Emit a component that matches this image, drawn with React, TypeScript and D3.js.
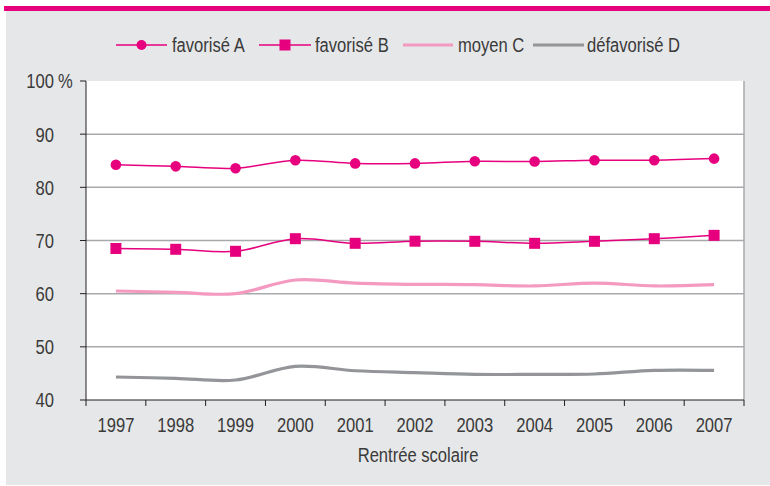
import React from 'react';
import * as d3 from 'd3';

const years = ['1997', '1998', '1999', '2000', '2001', '2002', '2003', '2004', '2005', '2006', '2007'];
const favA = [84.25, 83.95, 83.6, 85.1, 84.5, 84.5, 84.9, 84.85, 85.1, 85.1, 85.4];
const favB = [68.5, 68.35, 67.97, 70.34, 69.47, 69.87, 69.85, 69.47, 69.85, 70.34, 70.97];
const moyC = [60.5, 60.26, 60.0, 62.57, 62.0, 61.76, 61.7, 61.45, 62.0, 61.45, 61.7];
const defD = [44.33, 44.08, 43.76, 46.33, 45.5, 45.14, 44.82, 44.82, 44.89, 45.57, 45.57];
const yTicks = [40, 50, 60, 70, 80, 90, 100];
const seriesNames = ['favorisé A', 'favorisé B', 'moyen C', 'défavorisé D'];

const MAGENTA = '#e6007e';
const PINK = '#f49ac1';
const GREY = '#939598';
const TEXT = '#3a3a3a';
const FONT = '"Liberation Sans", Arial, sans-serif';
const SX = 0.79;
const FS = 21;

function T(props: { x: number; y: number; anchor?: string; dy?: string; children: React.ReactNode }) {
  const { x, y, anchor = 'start', dy = '0', children } = props;
  return (
    <text
      transform={`translate(${x},${y}) scale(${SX},1)`}
      dy={dy}
      fontSize={FS}
      fill={TEXT}
      textAnchor={anchor}
    >
      {children}
    </text>
  );
}

export default function App() {
  const W = 770, H = 486;
  const left = 86, right = 744, top = 81, bottom = 400;
  const x = d3.scaleBand<string>().domain(years).range([left, right]);
  const y = d3.scaleLinear().domain([40, 100]).range([bottom, top]);
  const cx = (i: number) => (x(years[i]) as number) + x.bandwidth() / 2;

  const line = d3
    .line<number>()
    .x((_, i) => cx(i))
    .y((d) => y(d))
    .curve(d3.curveCatmullRom.alpha(0.5));

  const series = [
    { name: seriesNames[0], data: favA, color: MAGENTA, width: 1.5, marker: 'circle' },
    { name: seriesNames[1], data: favB, color: MAGENTA, width: 1.5, marker: 'square' },
    { name: seriesNames[2], data: moyC, color: PINK, width: 3.2, marker: 'none' },
    { name: seriesNames[3], data: defD, color: GREY, width: 3.2, marker: 'none' },
  ];

  const legendPos = [
    { x0: 116, x1: 167, tx: 172 },
    { x0: 259, x1: 311, tx: 315 },
    { x0: 403, x1: 453, tx: 458 },
    { x0: 533, x1: 584, tx: 587 },
  ];
  const legendY = 45;

  const boundaries = years.map((yr) => x(yr) as number).concat([right]);

  return (
    <svg width={W} height={H} style={{ position: 'absolute', left: 0, top: 0 }} fontFamily={FONT}>
      <rect x={0} y={0} width={W} height={H} fill="#ffffff" />
      <rect x={6} y={11} width={W - 6} height={474} fill="#e6e7e8" />
      <rect x={4} y={6} width={W - 4} height={5} fill={MAGENTA} />

      {/* legend */}
      {series.map((s, i) => {
        const p = legendPos[i];
        const mid = (p.x0 + p.x1) / 2;
        return (
          <g key={s.name}>
            <line x1={p.x0} x2={p.x1} y1={legendY} y2={legendY} stroke={s.color} strokeWidth={s.width} />
            {s.marker === 'circle' && <circle cx={mid} cy={legendY} r={5} fill={MAGENTA} />}
            {s.marker === 'square' && <rect x={mid - 5.5} y={legendY - 5.5} width={11} height={11} fill={MAGENTA} />}
            <T x={p.tx} y={legendY} dy="0.35em">
              {s.name}
            </T>
          </g>
        );
      })}

      {/* plot area */}
      <rect x={left} y={top} width={right - left} height={bottom - top} fill="#ffffff" />
      {yTicks
        .filter((t) => t > 40 && t < 100)
        .map((t) => (
          <line key={t} x1={left} x2={right} y1={y(t)} y2={y(t)} stroke="#a7a9ac" strokeWidth={1.5} />
        ))}
      <line x1={right} x2={right} y1={top} y2={bottom} stroke="#a7a9ac" strokeWidth={1.5} />

      {/* series */}
      {series.map((s) => (
        <path key={s.name} d={line(s.data) || ''} fill="none" stroke={s.color} strokeWidth={s.width} strokeLinejoin="round" />
      ))}
      {favA.map((v, i) => (
        <circle key={'a' + i} cx={cx(i)} cy={y(v)} r={5.3} fill={MAGENTA} />
      ))}
      {favB.map((v, i) => (
        <rect key={'b' + i} x={cx(i) - 5.5} y={y(v) - 5.5} width={11} height={11} fill={MAGENTA} />
      ))}

      {/* axes */}
      <line x1={left} x2={left} y1={top} y2={bottom} stroke="#231f20" strokeWidth={1} />
      <line x1={left} x2={right} y1={bottom} y2={bottom} stroke="#231f20" strokeWidth={1} />
      {yTicks.map((t) => (
        <g key={t}>
          <line x1={left - 6} x2={left} y1={y(t)} y2={y(t)} stroke="#231f20" strokeWidth={1} />
          <T x={54} y={y(t)} dy="0.35em" anchor="end">
            {String(t)}
          </T>
          {t === 100 && (
            <T x={58} y={y(t)} dy="0.35em">
              %
            </T>
          )}
        </g>
      ))}
      {boundaries.map((bx, i) => (
        <line key={i} x1={bx} x2={bx} y1={bottom} y2={bottom + 6} stroke="#231f20" strokeWidth={1} />
      ))}
      {years.map((yr, i) => (
        <T key={yr} x={cx(i)} y={431.5} anchor="middle">
          {yr}
        </T>
      ))}
      <T x={(left + right) / 2 + 3} y={461.5} anchor="middle">
        Rentrée scolaire
      </T>
    </svg>
  );
}
